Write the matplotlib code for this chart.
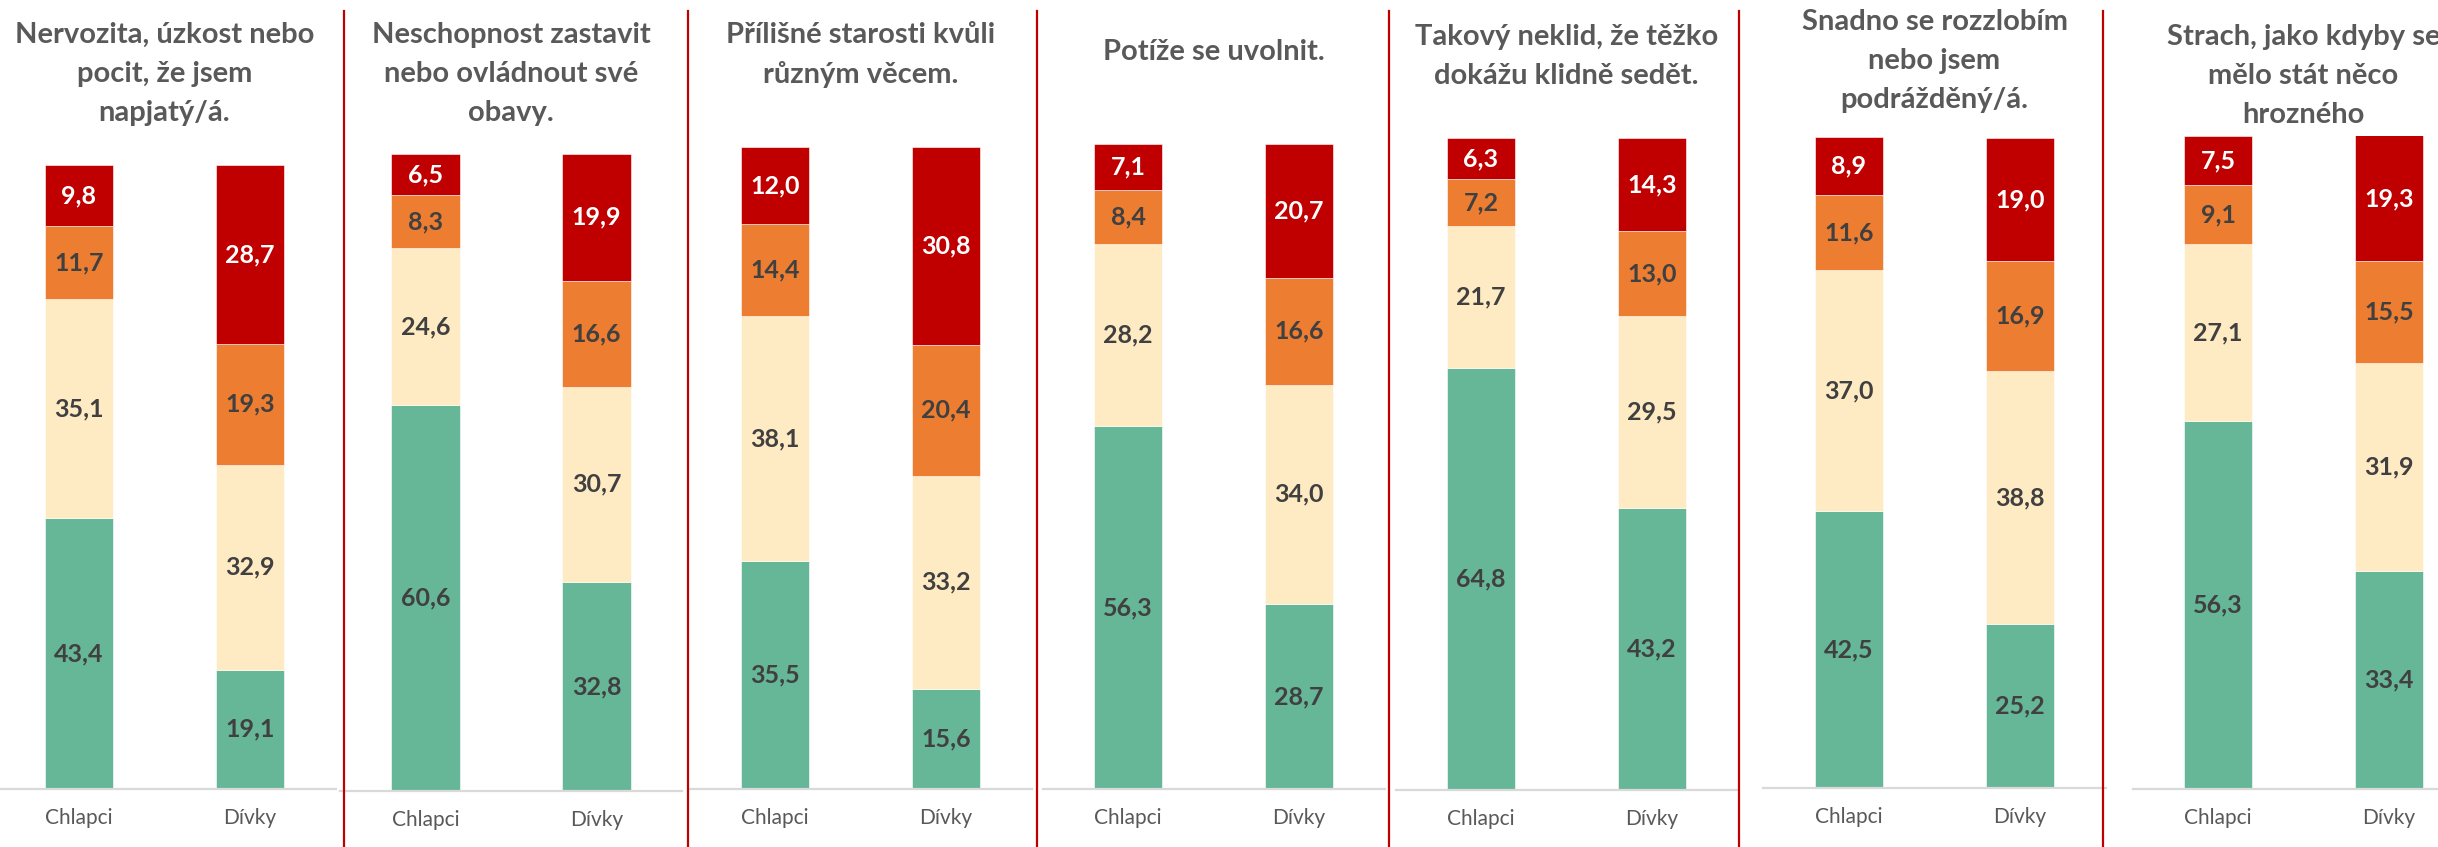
import matplotlib
matplotlib.use("Agg")
import matplotlib.pyplot as plt
from matplotlib.lines import Line2D

plt.rcParams['font.family'] = ['Lato', 'DejaVu Sans']

# --- data ---
questions = [
    "Nervozita, úzkost nebo\npocit, že jsem\nnapjatý/á.",
    "Neschopnost zastavit\nnebo ovládnout své\nobavy.",
    "Přílišné starosti kvůli\nrůzným věcem.",
    "Potíže se uvolnit.",
    "Takový neklid, že těžko\ndokážu klidně sedět.",
    "Snadno se rozzlobím\nnebo jsem\npodrážděný/á.",
    "Strach, jako kdyby se\nmělo stát něco\nhrozného",
]
groups = ["Chlapci", "Dívky"]

# each entry: [Chlapci, Dívky]
green = [[43.4, 19.1], [60.6, 32.8], [35.5, 15.6], [56.3, 28.7], [64.8, 43.2], [42.5, 25.2], [56.3, 33.4]]
light = [[35.1, 32.9], [24.6, 30.7], [38.1, 33.2], [28.2, 34.0], [21.7, 29.5], [37.0, 38.8], [27.1, 31.9]]
orange = [[11.7, 19.3], [8.3, 16.6], [14.4, 20.4], [8.4, 16.6], [7.2, 13.0], [11.6, 16.9], [9.1, 15.5]]
red = [[9.8, 28.7], [6.5, 19.9], [12.0, 30.8], [7.1, 20.7], [6.3, 14.3], [8.9, 19.0], [7.5, 19.3]]

series = [green, light, orange, red]
colors = ["#66B698", "#FFEBC3", "#ED7D31", "#C00000"]
label_colors = ["#404040", "#404040", "#404040", "white"]

# --- layout (pixels in the 2438x847 image) ---
W, H = 2438, 847
first_bar_x = [79, 425.5, 775, 1128, 1481, 1849, 2218]
plot_top = [165, 154, 147, 144, 138, 137, 136]
plot_bottom = [789, 791, 789, 789, 790, 788, 789]
title_first_line = [35, 35, 35, 52, 37, 22, 37]
separators = [344, 688, 1037, 1389, 1739, 2103]
unit = 171  # pixels between bar centres

fig = plt.figure(figsize=(W / 100, H / 100), dpi=100)

for i, q in enumerate(questions):
    left = first_bar_x[i] - unit / 2
    ax = fig.add_axes([left / W, 1 - plot_bottom[i] / H,
                       2 * unit / W, (plot_bottom[i] - plot_top[i]) / H])
    x = [0, 1]
    bottom = [0, 0]
    for s, ser in enumerate(series):
        vals = ser[i]
        bars = ax.bar(x, vals, width=0.4, bottom=bottom, color=colors[s],
                      edgecolor="white", linewidth=0.4)
        ax.bar_label(bars, labels=[f"{v:.1f}".replace(".", ",") for v in vals],
                     label_type="center", color=label_colors[s],
                     fontsize=18, fontweight="bold")
        bottom = [b + v for b, v in zip(bottom, vals)]

    ax.set_xlim(-0.5, 1.5)
    ax.set_ylim(0, 100)
    ax.set_xticks(x)
    ax.set_xticklabels(groups, fontsize=15, color="#595959")
    ax.tick_params(axis="x", length=0, pad=14)
    ax.set_yticks([])
    for side in ["top", "left", "right"]:
        ax.spines[side].set_visible(False)
    ax.spines["bottom"].set_color("#D9D9D9")
    ax.spines["bottom"].set_linewidth(1.6)

    # title, one line at a time
    cx = (left + unit) / W
    for k, line in enumerate(q.split("\n")):
        y = title_first_line[i] + 39 * k
        fig.text(cx, 1 - y / H, line, ha="center", va="center",
                 fontsize=21, fontweight="bold", color="#595959")

for sx in separators:
    fig.add_artist(Line2D([sx / W, sx / W], [0, 1 - 11 / H],
                          color="#C00000", linewidth=1.6))

fig.savefig("out.png", dpi=100, facecolor="white")
